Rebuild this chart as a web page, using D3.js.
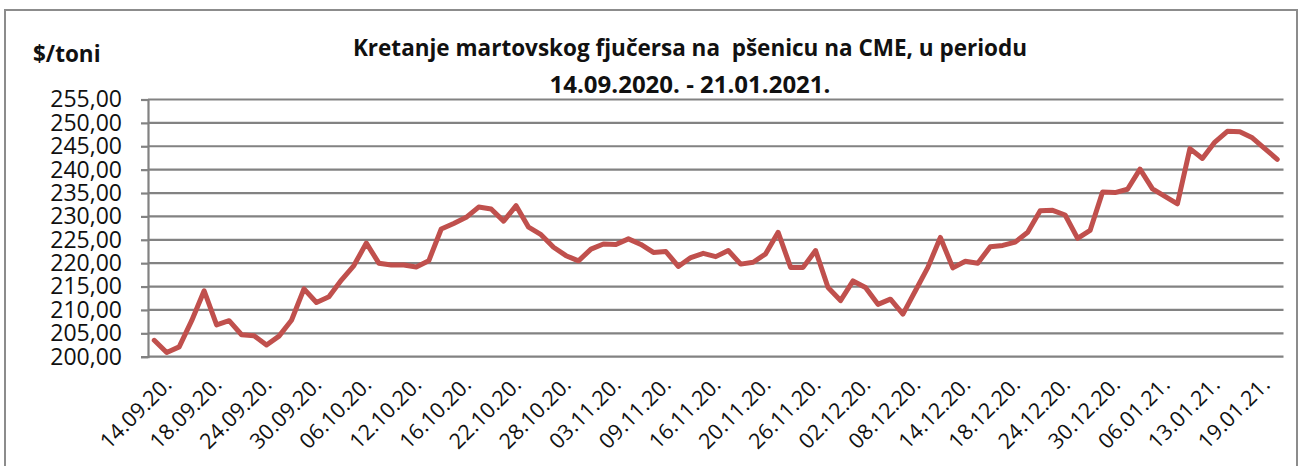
<!DOCTYPE html>
<html><head><meta charset="utf-8">
<script src="https://cdn.jsdelivr.net/npm/d3@7"></script>
<style>body{margin:0;background:#fff;} svg{display:block;font-family:"Open Sans",sans-serif;}</style>
</head><body><svg id="c" width="1302" height="466"></svg>
<script>
const dates = ["14.09.20.","15.09.20.","16.09.20.","17.09.20.","18.09.20.","21.09.20.","22.09.20.","23.09.20.","24.09.20.","25.09.20.","28.09.20.","29.09.20.","30.09.20.",
"01.10.20.","02.10.20.","05.10.20.","06.10.20.","07.10.20.","08.10.20.","09.10.20.","12.10.20.","13.10.20.","14.10.20.","15.10.20.","16.10.20.","19.10.20.","20.10.20.","21.10.20.","22.10.20.","23.10.20.","26.10.20.","27.10.20.","28.10.20.","29.10.20.","30.10.20.",
"02.11.20.","03.11.20.","04.11.20.","05.11.20.","06.11.20.","09.11.20.","10.11.20.","12.11.20.","13.11.20.","16.11.20.","17.11.20.","18.11.20.","19.11.20.","20.11.20.","23.11.20.","24.11.20.","25.11.20.","26.11.20.","27.11.20.","30.11.20.",
"01.12.20.","02.12.20.","03.12.20.","04.12.20.","07.12.20.","08.12.20.","09.12.20.","10.12.20.","11.12.20.","14.12.20.","15.12.20.","16.12.20.","17.12.20.","18.12.20.","21.12.20.","22.12.20.","23.12.20.","24.12.20.","25.12.20.","28.12.20.","29.12.20.","30.12.20.","31.12.20.",
"04.01.21.","05.01.21.","06.01.21.","07.01.21.","08.01.21.","11.01.21.","13.01.21.","14.01.21.","15.01.21.","18.01.21.","19.01.21.","20.01.21.","21.01.21."];
const prices = [203.5,200.9,202.1,207.7,214.1,206.8,207.7,204.7,204.5,202.5,204.4,207.8,214.5,
211.6,212.8,216.4,219.5,224.3,220.0,219.6,219.6,219.2,220.5,227.3,228.5,229.8,232.0,231.6,229.0,232.3,227.7,226.1,223.4,221.6,220.5,
223.0,224.1,224.0,225.2,224.0,222.3,222.5,219.3,221.2,222.1,221.4,222.7,219.8,220.2,222.0,226.6,219.1,219.1,222.7,214.8,
212.0,216.2,214.8,211.2,212.3,209.1,214.1,219.1,225.5,219.0,220.4,220.0,223.5,223.8,224.5,226.6,231.2,231.3,230.3,225.3,227.0,235.2,235.1,
235.8,240.1,235.9,234.3,232.7,244.5,242.4,245.9,248.2,248.1,246.8,244.5,242.2];
const yTicks = [200,205,210,215,220,225,230,235,240,245,250,255];
const labelStep = 4;
const titleLines = ["Kretanje martovskog fjučersa na  pšenicu na CME, u periodu", "14.09.2020. - 21.01.2021."];
const yUnit = "$/toni";

const svg = d3.select("#c");
const pLeft = 148, pRight = 1283.5, pTop = 99.5, pBottom = 356.7;
const x = d3.scalePoint().domain(dates).range([pLeft, pRight]).padding(0.5);
const y = d3.scaleLinear().domain([200, 255]).range([pBottom, pTop]);
const loc = d3.formatLocale({decimal: ",", thousands: ".", grouping: [3], currency: ["", ""]});
const fmt = loc.format(".2f");
const grid = "#828282";

svg.append("rect").attr("x", 5).attr("y", 10).attr("width", 1292).attr("height", 470)
  .attr("fill", "none").attr("stroke", "#8c8c8c").attr("stroke-width", 2);

svg.append("g").selectAll("line").data(yTicks).join("line")
  .attr("x1", pLeft).attr("x2", pRight).attr("y1", d => y(d)).attr("y2", d => y(d))
  .attr("stroke", grid).attr("stroke-width", 2.2);

const ya = svg.append("g").attr("transform", `translate(${pLeft},0)`)
  .call(d3.axisLeft(y).tickValues(yTicks).tickFormat(fmt).tickSize(7).tickPadding(19));
ya.select(".domain").attr("stroke", grid).attr("stroke-width", 2.2);
ya.selectAll(".tick line").attr("stroke", grid).attr("stroke-width", 2.2);
ya.selectAll(".tick text").attr("font-size", 23).attr("font-family", "Open Sans").attr("fill", "#111");

const xa = svg.append("g").attr("transform", `translate(0,${pBottom})`)
  .call(d3.axisBottom(x).tickValues(dates.filter((d, i) => i % labelStep === 0)).tickSize(0));
xa.select(".domain").remove();
xa.selectAll(".tick text").attr("font-size", 21.5).attr("font-family", "Open Sans").attr("fill", "#111")
  .attr("text-anchor", "end").attr("y", 0).attr("dy", "0.35em")
  .attr("transform", "translate(13,24) rotate(-45)");

const line = d3.line().x((d, i) => x(dates[i])).y(d => y(d));
svg.append("path").datum(prices).attr("d", line).attr("fill", "none")
  .attr("stroke", "#C0504D").attr("stroke-width", 5).attr("stroke-linejoin", "round").attr("stroke-linecap", "round");

svg.append("text").attr("x", 33).attr("y", 62).text(yUnit)
  .attr("font-size", 22.5).attr("font-weight", "bold").attr("fill", "#111");

svg.append("g").selectAll("text").data(titleLines).join("text")
  .attr("x", 690).attr("y", (d, i) => 56 + i * 37).attr("text-anchor", "middle")
  .style("white-space", "pre").attr("font-size", (d, i) => i === 0 ? 22.5 : 24).attr("font-weight", "bold").attr("fill", "#111")
  .text(d => d);
</script></body></html>
